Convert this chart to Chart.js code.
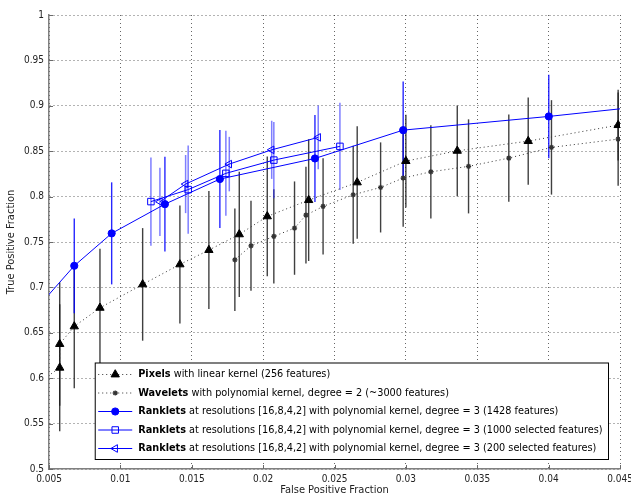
<!DOCTYPE html>
<html>
<head>
<meta charset="utf-8">
<script src="https://cdn.jsdelivr.net/npm/chart.js@4.4.1/dist/chart.umd.min.js"></script>
<style>
  html, body { margin: 0; padding: 0; background: #fff; }
  #wrap { width: 631px; height: 501px; }
</style>
</head>
<body>
<div id="wrap"><canvas id="c" width="631" height="501"></canvas></div>
<script>
// ---------------- data ----------------
const xTicks = [0.005, 0.01, 0.015, 0.02, 0.025, 0.03, 0.035, 0.04, 0.045];
const yTicks = [0.5, 0.55, 0.6, 0.65, 0.7, 0.75, 0.8, 0.85, 0.9, 0.95, 1];

const seriesNames = ['Pixels', 'Wavelets', 'Ranklets', 'Ranklets', 'Ranklets'];
const seriesDetails = [
  ' with linear kernel (256 features)',
  ' with polynomial kernel, degree = 2 (~3000 features)',
  ' at resolutions [16,8,4,2] with polynomial kernel, degree = 3 (1428 features)',
  ' at resolutions [16,8,4,2] with polynomial kernel, degree = 3 (1000 selected features)',
  ' at resolutions [16,8,4,2] with polynomial kernel, degree = 3 (200 selected features)'
];

const pixelsFPF = [0.0040, 0.00575, 0.00575, 0.00677, 0.00857, 0.01156, 0.01417, 0.0162, 0.01833, 0.02029, 0.02319, 0.02659, 0.0300, 0.0336, 0.03857, 0.04487];
const pixelsTPF = [0.592, 0.6115, 0.6376, 0.657, 0.6775, 0.7033, 0.7253, 0.7411, 0.7584, 0.7782, 0.7961, 0.8156, 0.8391, 0.8504, 0.8611, 0.8787];
const pixelsErr = [0.07, 0.07, 0.068, 0.068, 0.065, 0.062, 0.065, 0.065, 0.069, 0.066, 0.067, 0.062, 0.051, 0.050, 0.048, 0.039];

const waveletsFPF = [0.01802, 0.01915, 0.02075, 0.0222, 0.0230, 0.0242, 0.02631, 0.02823, 0.02981, 0.03175, 0.03439, 0.03721, 0.0402, 0.04487];
const waveletsTPF = [0.7304, 0.7458, 0.7562, 0.7653, 0.7796, 0.7892, 0.802, 0.8101, 0.8204, 0.8273, 0.8333, 0.8424, 0.8542, 0.8633];
const waveletsErr = [0.0565, 0.0496, 0.052, 0.0514, 0.0532, 0.053, 0.054, 0.0496, 0.0536, 0.0514, 0.0518, 0.048, 0.052, 0.0514];

const rankletsFPF = [0.0042, 0.00677, 0.00939, 0.01312, 0.01697, 0.02363, 0.02981, 0.04001, 0.050];
const rankletsTPF = [0.678, 0.7238, 0.7595, 0.7917, 0.8193, 0.842, 0.8732, 0.8883, 0.905];
const rankletsErr = [0.05, 0.0522, 0.0562, 0.0523, 0.054, 0.048, 0.0536, 0.046, 0.05];

const ranklets1000FPF = [0.01214, 0.01475, 0.01739, 0.02075, 0.02538];
const ranklets1000TPF = [0.7945, 0.8077, 0.8256, 0.8402, 0.8553];
const ranklets1000Err = [0.0485, 0.0485, 0.0468, 0.042, 0.048];

const ranklets200FPF = [0.01277, 0.01457, 0.01763, 0.0206, 0.02386];
const ranklets200TPF = [0.7943, 0.8138, 0.8358, 0.8515, 0.8652];
const ranklets200Err = [0.0376, 0.032, 0.030, 0.032, 0.035];

// ---------------- fonts ----------------
function hasFont(name) {
  const c = document.createElement('canvas').getContext('2d');
  const s = 'abcdefghijklmnop0123456789';
  c.font = '40px monospace';
  const a = c.measureText(s).width;
  c.font = '40px "' + name + '", monospace';
  return Math.abs(c.measureText(s).width - a) > 0.5;
}
let FAMILY, TICK_SIZE, LEG_SIZE, TITLE_SIZE;
if (hasFont('Liberation Sans Narrow')) {
  FAMILY = '"Liberation Sans Narrow"'; TICK_SIZE = 11.5; LEG_SIZE = 13; TITLE_SIZE = 12.5;
} else if (hasFont('DejaVu Sans Condensed')) {
  FAMILY = '"DejaVu Sans Condensed"'; TICK_SIZE = 10; LEG_SIZE = 10.8; TITLE_SIZE = 11;
} else {
  FAMILY = '"Liberation Sans", Arial, sans-serif'; TICK_SIZE = 10; LEG_SIZE = 10.8; TITLE_SIZE = 11;
}

function pts(xs, ys) { return xs.map((v, i) => ({ x: v, y: ys[i] })); }

const BLUE = '#0000ff';

const datasets = [
  {
    label: seriesNames[0] + seriesDetails[0],
    data: pts(pixelsFPF, pixelsTPF), errors: pixelsErr,
    errorColor: 'rgba(30,30,30,0.85)', errorWidth: 1.4,
    showLine: true, borderColor: '#333', borderWidth: 1, borderDash: [1, 3],
    pointStyle: 'triangle', pointRadius: 4.8, pointBackgroundColor: '#000', pointBorderColor: '#000', pointBorderWidth: 1
  },
  {
    label: seriesNames[1] + seriesDetails[1],
    data: pts(waveletsFPF, waveletsTPF), errors: waveletsErr,
    errorColor: 'rgba(30,30,30,0.85)', errorWidth: 1.4,
    showLine: true, borderColor: '#333', borderWidth: 1, borderDash: [1, 3],
    pointStyle: 'star', pointRadius: 2.6, pointBackgroundColor: '#000', pointBorderColor: '#333', pointBorderWidth: 1.3
  },
  {
    label: seriesNames[2] + seriesDetails[2],
    data: pts(rankletsFPF, rankletsTPF), errors: rankletsErr,
    errorColor: 'rgba(0,0,255,0.85)', errorWidth: 1.4,
    showLine: true, borderColor: BLUE, borderWidth: 1,
    pointStyle: 'circle', pointRadius: 3.6, pointBackgroundColor: BLUE, pointBorderColor: BLUE, pointBorderWidth: 1
  },
  {
    label: seriesNames[3] + seriesDetails[3],
    data: pts(ranklets1000FPF, ranklets1000TPF), errors: ranklets1000Err,
    errorColor: 'rgba(40,40,255,0.6)', errorWidth: 1.5,
    showLine: true, borderColor: BLUE, borderWidth: 1,
    pointStyle: 'rect', pointRadius: 4.6, pointBackgroundColor: 'rgba(0,0,0,0)', pointBorderColor: BLUE, pointBorderWidth: 1
  },
  {
    label: seriesNames[4] + seriesDetails[4],
    data: pts(ranklets200FPF, ranklets200TPF), errors: ranklets200Err,
    errorColor: 'rgba(40,40,255,0.6)', errorWidth: 1.5,
    showLine: true, borderColor: BLUE, borderWidth: 1,
    pointStyle: 'triangle', pointRotation: -90, pointRadius: 4.4, pointBackgroundColor: 'rgba(0,0,0,0)', pointBorderColor: BLUE, pointBorderWidth: 1
  }
];

// ---------------- plugins ----------------
const errorBars = {
  id: 'errorBars',
  beforeDatasetsDraw(chart) {
    const { ctx, chartArea: a, scales: { x, y } } = chart;
    ctx.save();
    ctx.beginPath();
    ctx.rect(a.left, a.top, a.right - a.left, a.bottom - a.top);
    ctx.clip();
    chart.data.datasets.forEach(ds => {
      if (!ds.errors) return;
      ctx.strokeStyle = ds.errorColor;
      ctx.lineWidth = ds.errorWidth;
      ds.data.forEach((p, j) => {
        const e = ds.errors[j];
        const px = x.getPixelForValue(p.x);
        ctx.beginPath();
        ctx.moveTo(px, y.getPixelForValue(p.y + e));
        ctx.lineTo(px, y.getPixelForValue(p.y - e));
        ctx.stroke();
      });
    });
    ctx.restore();
  }
};

const inwardTicks = {
  id: 'inwardTicks',
  afterDraw(chart) {
    const { ctx, chartArea: a, scales: { x, y } } = chart;
    ctx.save();
    ctx.strokeStyle = '#6a6a6a';
    ctx.lineWidth = 1;
    x.ticks.forEach(t => {
      const px = Math.round(x.getPixelForValue(t.value)) + 0.5;
      ctx.beginPath(); ctx.moveTo(px, a.bottom); ctx.lineTo(px, a.bottom - 4); ctx.stroke();
    });
    y.ticks.forEach(t => {
      const py = Math.round(y.getPixelForValue(t.value)) + 0.5;
      ctx.beginPath(); ctx.moveTo(a.left, py); ctx.lineTo(a.left + 4, py); ctx.stroke();
    });
    ctx.restore();
  }
};

function drawMarker(ctx, ds, cx, cy) {
  const r = ds.pointRadius;
  ctx.save();
  ctx.lineWidth = ds.pointBorderWidth;
  ctx.strokeStyle = ds.pointBorderColor;
  ctx.fillStyle = ds.pointBackgroundColor;
  ctx.setLineDash([]);
  ctx.beginPath();
  const st = ds.pointStyle;
  if (st === 'circle') {
    ctx.arc(cx, cy, r, 0, Math.PI * 2);
    ctx.fill(); ctx.stroke();
  } else if (st === 'rect') {
    const s = Math.SQRT1_2 * r;
    ctx.rect(cx - s, cy - s, 2 * s, 2 * s);
    ctx.fill(); ctx.stroke();
  } else if (st === 'triangle') {
    let rad = (ds.pointRotation || 0) * Math.PI / 180;
    ctx.moveTo(cx + Math.sin(rad) * r, cy - Math.cos(rad) * r);
    rad += 2 * Math.PI / 3;
    ctx.lineTo(cx + Math.sin(rad) * r, cy - Math.cos(rad) * r);
    rad += 2 * Math.PI / 3;
    ctx.lineTo(cx + Math.sin(rad) * r, cy - Math.cos(rad) * r);
    ctx.closePath();
    ctx.fill(); ctx.stroke();
  } else if (st === 'star') {
    for (let k = 0; k < 4; k++) {
      const ang = k * Math.PI / 4;
      ctx.moveTo(cx - Math.cos(ang) * r, cy - Math.sin(ang) * r);
      ctx.lineTo(cx + Math.cos(ang) * r, cy + Math.sin(ang) * r);
    }
    ctx.stroke();
  }
  ctx.restore();
}

const boxLegend = {
  id: 'boxLegend',
  afterDraw(chart) {
    const { ctx, chartArea: a } = chart;
    const dss = chart.data.datasets;
    const boldFont = 'bold ' + LEG_SIZE + 'px ' + FAMILY;
    const normFont = LEG_SIZE + 'px ' + FAMILY;
    ctx.save();
    let maxW = 0;
    const widths = seriesNames.map((n, i) => {
      ctx.font = boldFont; const wb = ctx.measureText(n).width;
      ctx.font = normFont; const wn = ctx.measureText(seriesDetails[i]).width;
      maxW = Math.max(maxW, wb + wn);
      return wb;
    });
    const rowH = 18.5;
    const right = a.right - 11.5;
    const bottom = a.bottom - 9.5;
    const textOff = 43;
    const left = right - (textOff + maxW + 6);
    const top = bottom - (rowH * dss.length + 4);
    ctx.fillStyle = '#fff';
    ctx.fillRect(left, top, right - left, bottom - top);
    ctx.strokeStyle = '#000';
    ctx.lineWidth = 1;
    ctx.strokeRect(left, top, right - left, bottom - top);
    dss.forEach((ds, i) => {
      const cy = top + 11.5 + i * rowH;
      ctx.save();
      ctx.strokeStyle = ds.borderColor;
      ctx.lineWidth = 1;
      ctx.setLineDash(ds.borderDash || []);
      ctx.beginPath();
      ctx.moveTo(left + 3, cy); ctx.lineTo(left + 37, cy);
      ctx.stroke();
      ctx.restore();
      drawMarker(ctx, ds, left + 20, cy);
      ctx.fillStyle = '#000';
      ctx.textBaseline = 'middle';
      ctx.textAlign = 'left';
      ctx.font = boldFont;
      ctx.fillText(seriesNames[i], left + textOff, cy);
      ctx.font = normFont;
      ctx.fillText(seriesDetails[i], left + textOff + widths[i], cy);
    });
    ctx.restore();
  }
};

// ---------------- chart ----------------
new Chart(document.getElementById('c'), {
  type: 'scatter',
  data: { datasets },
  plugins: [errorBars, inwardTicks, boxLegend],
  options: {
    responsive: false,
    animation: false,
    events: [],
    layout: { padding: { top: 15, right: 11, left: 0, bottom: 0 } },
    plugins: { legend: { display: false }, tooltip: { enabled: false } },
    scales: {
      x: {
        type: 'linear',
        min: xTicks[0], max: xTicks[xTicks.length - 1],
        afterBuildTicks(scale) { scale.ticks = xTicks.map(v => ({ value: v })); },
        afterFit(scale) { scale.height = 32; scale.paddingLeft = 0; scale.paddingRight = 0; },
        ticks: {
          padding: 4, color: '#222',
          font: { family: FAMILY, size: TICK_SIZE },
          maxRotation: 0, autoSkip: false,
          callback: v => String(v)
        },
        grid: { color: 'rgba(0,0,0,0.6)', lineWidth: 1, drawTicks: false },
        border: { display: true, color: '#808080', width: 1.5, dash: [1, 3] },
        title: {
          display: true, text: 'False Positive Fraction', color: '#222',
          font: { family: FAMILY, size: TITLE_SIZE }, padding: { top: 0, bottom: 4 }
        }
      },
      y: {
        type: 'linear',
        min: yTicks[0], max: yTicks[yTicks.length - 1],
        afterBuildTicks(scale) { scale.ticks = yTicks.map(v => ({ value: v })); },
        afterFit(scale) { scale.width = 49; scale.paddingTop = 0; scale.paddingBottom = 0; },
        ticks: {
          padding: 5, color: '#222',
          font: { family: FAMILY, size: TICK_SIZE },
          autoSkip: false,
          callback: v => String(v)
        },
        grid: { color: 'rgba(0,0,0,0.6)', lineWidth: 1, drawTicks: false },
        border: { display: true, color: '#808080', width: 1.5, dash: [1, 3] },
        title: {
          display: true, text: 'True Positive Fraction', color: '#222',
          font: { family: FAMILY, size: TITLE_SIZE }, padding: { top: 5, bottom: 0 }
        }
      }
    }
  }
});
</script>
</body>
</html>
